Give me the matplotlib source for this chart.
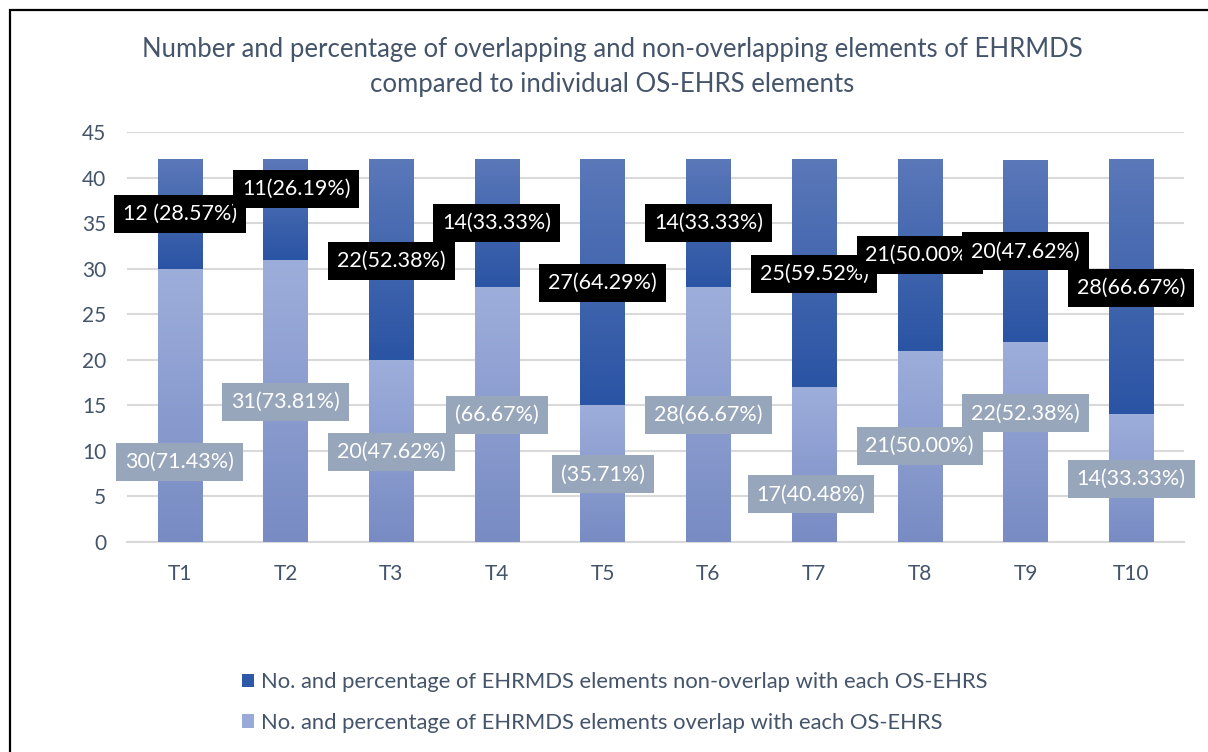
import matplotlib
matplotlib.use("Agg")
import matplotlib.pyplot as plt
import numpy as np
from matplotlib.colors import LinearSegmentedColormap
from matplotlib.patches import Rectangle

plt.rcParams['font.family'] = ['Lato', 'DejaVu Sans']

categories = ['T1', 'T2', 'T3', 'T4', 'T5', 'T6', 'T7', 'T8', 'T9', 'T10']
overlap = [30, 31, 20, 28, 15, 28, 17, 21, 22, 14]
non_overlap = [12, 11, 22, 14, 27, 14, 25, 21, 20, 28]
overlap_labels = ['30(71.43%)', '31(73.81%)', '20(47.62%)', '(66.67%)', '(35.71%)',
                  '28(66.67%)', '17(40.48%)', '21(50.00%)', '22(52.38%)', '14(33.33%)']
non_overlap_labels = ['12 (28.57%)', '11(26.19%)', '22(52.38%)', '14(33.33%)', '27(64.29%)',
                      '14(33.33%)', '25(59.52%)', '21(50.00%)', '20(47.62%)', '28(66.67%)']
name_non = 'No. and percentage of EHRMDS elements non-overlap with each OS-EHRS'
name_over = 'No. and percentage of EHRMDS elements overlap with each OS-EHRS'
title = ('Number and percentage of overlapping and non-overlapping elements of EHRMDS\n'
         'compared to individual OS-EHRS elements')

# where the (hand-moved) data labels sit, in data units
top_label_y = [36.0, 38.8, 30.9, 35.0, 28.4, 35.0, 29.4, 31.5, 31.9, 27.9]
top_label_dx = [0, 0.1, 0, 0, 0, 0, 0, 0, 0, 0]
bot_label_y = [8.8, 15.4, 9.9, 13.9, 7.4, 13.9, 5.2, 10.5, 14.1, 6.9]
bot_label_dx = [0, 0, 0, 0, 0, 0, -0.03, 0, 0, 0]

txt = '#44546A'
fig = plt.figure(figsize=(12.08, 7.52), dpi=100)
ax = fig.add_axes([127/1208, 1-541.7/752, (1184-127)/1208, (541.7-132.3)/752])

x = np.arange(len(categories))
b_over = ax.bar(x, overlap, width=0.42, color='#9AAAD8', zorder=2, label=name_over)
b_non = ax.bar(x, non_overlap, bottom=overlap, width=0.42, color='#2E58A8', zorder=2, label=name_non)


def grad_fill(patch, top, bottom):
    x0, y0 = patch.get_x(), patch.get_y()
    w, h = patch.get_width(), patch.get_height()
    cmap = LinearSegmentedColormap.from_list('g', [bottom, top])
    g = np.linspace(0, 1, 256).reshape(-1, 1)
    ax.imshow(g, extent=(x0, x0 + w, y0, y0 + h), origin='lower', cmap=cmap,
              aspect='auto', zorder=3, interpolation='bilinear')


for p in b_over:
    grad_fill(p, '#9DAEDB', '#788BC3')
for p in b_non:
    grad_fill(p, '#5B78B9', '#2A54A4')

ax.set_xlim(-0.5, len(categories) - 0.5)
ax.set_ylim(0, 45)
ax.set_yticks(range(0, 46, 5))
ax.set_xticks(x)
ax.set_xticklabels(categories)
ax.grid(axis='y', color='#D9D9D9', linewidth=1.5, zorder=0)
ax.set_axisbelow(True)
for s in ['top', 'right', 'left']:
    ax.spines[s].set_visible(False)
ax.spines['bottom'].set_color('#D9D9D9')
ax.spines['bottom'].set_linewidth(1.5)
ax.tick_params(axis='both', length=0, labelsize=15, labelcolor=txt)
ax.tick_params(axis='y', pad=15)
ax.tick_params(axis='x', pad=16)

renderer = fig.canvas.get_renderer()
inv = ax.transData.inverted()


def boxed(xc, yc, s, fc, z):
    t = ax.text(xc, yc, s, ha='center', va='center', fontsize=15.5, color='white',
                zorder=z + 0.5, clip_on=False)
    bb = t.get_window_extent(renderer)
    cx, cy = ax.transData.transform((xc, yc))
    (x0, y0), (x1, y1) = inv.transform([(bb.x0 - 9, cy - 19), (bb.x1 + 9, cy + 19)])
    ax.add_patch(Rectangle((x0, y0), x1 - x0, y1 - y0, fc=fc, ec='none', zorder=z, clip_on=False))


z = 5
for i in range(len(categories)):
    boxed(x[i] + top_label_dx[i], top_label_y[i], non_overlap_labels[i], 'black', z)
    z += 1
for i in range(len(categories)):
    boxed(x[i] + bot_label_dx[i], bot_label_y[i], overlap_labels[i], '#98A6BB', z)
    z += 1

fig.text(612/1208, 1 - 67/752, title, ha='center', va='center', fontsize=18.5,
         color=txt, linespacing=1.5)

fig.legend(handles=[b_non, b_over], labels=[name_non, name_over], loc='upper left',
           bbox_to_anchor=(242/1208, 1 - 672/752), frameon=False, fontsize=15.8,
           handlelength=0.55, handleheight=0.55, handletextpad=0.3, labelspacing=0.95,
           borderpad=0, borderaxespad=0, labelcolor=txt)

fig.patches.append(Rectangle((10/1208, -0.1), 1.2, 1.1 - 10/752, transform=fig.transFigure,
                             fill=False, ec='black', lw=1.6))

fig.savefig('out.png', dpi=100)
